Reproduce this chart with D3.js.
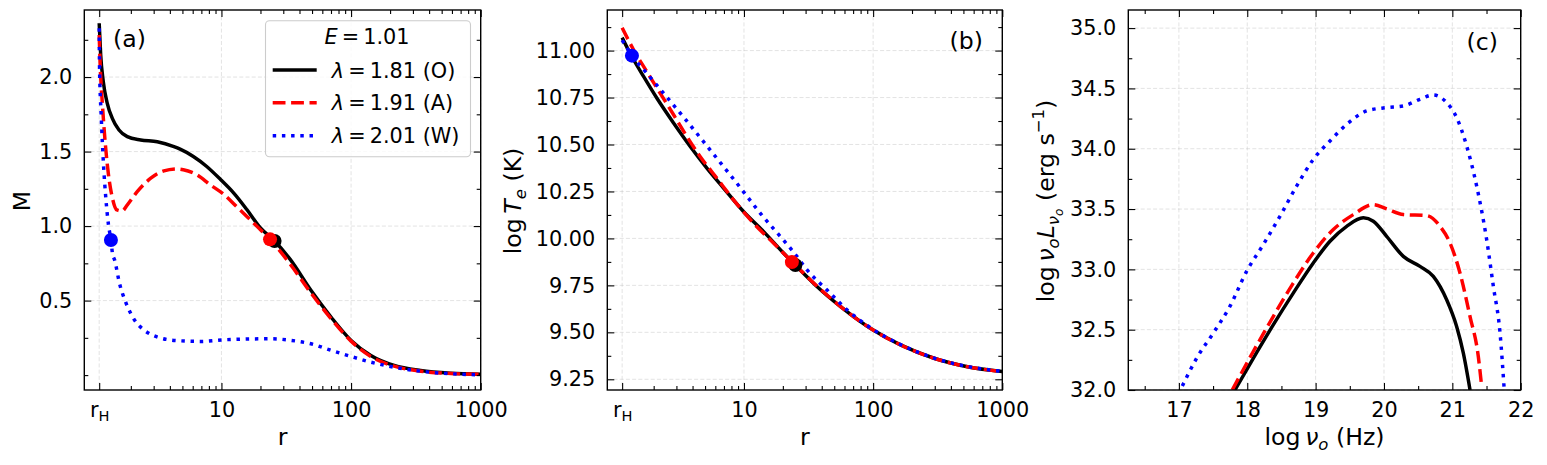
<!DOCTYPE html>
<html>
<head>
<meta charset="utf-8">
<script src="https://cdn.jsdelivr.net/npm/d3@7"></script>
<style>
  body { margin: 0; background: #fff; }
  svg { display: block; }
  text { font-family: "DejaVu Sans", sans-serif; fill: #000; }
</style>
</head>
<body>
<svg id="fig" width="1547" height="465"></svg>
<script>
// ---- data ----
var rH = 1.14;

// panel (a): Mach number M vs r
var rA_O = [rH, 1.171, 1.226, 1.316, 1.439, 1.621, 1.878, 2.38, 3.2, 4.3, 4.8, 6.07, 7.7, 9.88, 12.4, 15.7, 19.9, 25.7, 33.8, 49, 70, 100, 142, 215, 344, 588, 1000];
var mA_O = [2.361, 2.148, 1.969, 1.824, 1.723, 1.645, 1.600, 1.578, 1.566, 1.533, 1.516, 1.467, 1.40, 1.311, 1.223, 1.111, 0.989, 0.90, 0.778, 0.569, 0.39, 0.233, 0.132, 0.065, 0.031, 0.013, 0.006];
var rA_A = [rH, 1.16, 1.208, 1.267, 1.345, 1.443, 1.56, 1.71, 1.88, 2.24, 2.85, 3.6, 4.57, 5.08, 6.44, 8.17, 10.35, 13.1, 15.7, 20.0, 23.7, 34.4, 49, 70, 100, 142, 215, 344, 588, 1000];
var mA_A = [2.282, 2.081, 1.812, 1.566, 1.343, 1.186, 1.108, 1.101, 1.142, 1.231, 1.321, 1.37, 1.383, 1.378, 1.345, 1.278, 1.215, 1.13, 1.065, 0.975, 0.911, 0.737, 0.551, 0.379, 0.228, 0.125, 0.06, 0.026, 0.011, 0.005];
var rA_W = [rH, 1.146, 1.181, 1.231, 1.283, 1.345, 1.404, 1.443, 1.50, 1.635, 1.84, 2.135, 2.55, 3.24, 4.62, 6.99, 10, 16, 24.1, 34.4, 49, 70, 100, 142, 215, 344, 588, 1000];
var mA_W = [2.327, 2.081, 1.745, 1.41, 1.186, 1.007, 0.907, 0.817, 0.772, 0.616, 0.482, 0.37, 0.30, 0.254, 0.231, 0.226, 0.236, 0.242, 0.244, 0.233, 0.21, 0.166, 0.125, 0.087, 0.053, 0.026, 0.009, 0.002];

// panel (b): log Te vs r
var rB_O = [rH, 1.358, 1.674, 2.12, 2.86, 3.85, 5.18, 6.97, 9.95, 14.2, 20.3, 25, 36.9, 56, 100, 163, 296, 538, 1000];
var tB_O = [11.069, 10.967, 10.861, 10.746, 10.613, 10.488, 10.373, 10.267, 10.142, 10.036, 9.921, 9.858, 9.743, 9.637, 9.512, 9.433, 9.362, 9.317, 9.291];
var rB_A = [rH, 1.40, 1.77, 2.25, 2.86, 3.62, 4.59, 6.18, 8.33, 11.9, 17, 23.5, 36.9, 56, 100, 163, 296, 538, 1000];
var tB_A = [11.122, 11.003, 10.888, 10.772, 10.657, 10.542, 10.435, 10.32, 10.204, 10.08, 9.974, 9.876, 9.745, 9.637, 9.512, 9.433, 9.362, 9.317, 9.291];
var rB_W = [rH, 1.358, 1.77, 2.21, 3.52, 5.56, 8.73, 13.6, 21.8, 24.3, 30.8, 44, 63, 100, 163, 296, 538, 1000];
var tB_W = [11.056, 10.973, 10.879, 10.80, 10.634, 10.465, 10.297, 10.128, 9.965, 9.926, 9.832, 9.725, 9.619, 9.515, 9.435, 9.363, 9.318, 9.292];

// panel (c): spectrum log nu L_nu vs log nu
var nuC_O = [17.82, 18.088, 18.38, 18.673, 18.966, 19.21, 19.454, 19.698, 19.844, 20.039, 20.283, 20.527, 20.722, 20.917, 21.063, 21.161, 21.259];
var lC_O  = [32.0, 32.263, 32.54, 32.803, 33.053, 33.233, 33.357, 33.427, 33.399, 33.274, 33.108, 33.025, 32.942, 32.748, 32.526, 32.305, 32.0];
var nuC_A = [17.78, 18.088, 18.38, 18.673, 18.966, 19.259, 19.551, 19.844, 20.039, 20.283, 20.624, 20.82, 20.966, 21.112, 21.259, 21.38, 21.429];
var lC_A  = [32.0, 32.319, 32.609, 32.886, 33.136, 33.33, 33.454, 33.537, 33.501, 33.454, 33.446, 33.357, 33.219, 32.97, 32.609, 32.277, 32.028];
var nuC_W = [17.05, 17.259, 17.502, 17.746, 17.99, 18.234, 18.478, 18.722, 18.966, 19.21, 19.454, 19.746, 20.039, 20.283, 20.527, 20.722, 20.917, 21.063, 21.21, 21.356, 21.502, 21.6, 21.698, 21.756];
var lC_W  = [32.033, 32.263, 32.471, 32.693, 32.983, 33.205, 33.44, 33.69, 33.911, 34.064, 34.202, 34.313, 34.341, 34.355, 34.41, 34.446, 34.382, 34.258, 34.022, 33.69, 33.247, 32.859, 32.471, 32.028];

// sonic points
var sonicA = [{r: 1.404, v: 0.907, c: "#0000ff"}, {r: 25.7, v: 0.90, c: "#000000"}, {r: 23.7, v: 0.911, c: "#ff0000"}];
var sonicB = [{r: 1.358, v: 10.973, c: "#0000ff"}, {r: 25.0, v: 9.858, c: "#000000"}, {r: 23.5, v: 9.874, c: "#ff0000"}];

// ticks
var rMajor = [rH, 10, 100, 1000];
var rMinor = [2, 3, 4, 5, 6, 7, 8, 9, 20, 30, 40, 50, 60, 70, 80, 90, 200, 300, 400, 500, 600, 700, 800, 900];
var mMajor = [0.5, 1.0, 1.5, 2.0];
var mMinor = [0, 0.25, 0.75, 1.25, 1.75, 2.25];
var tMajor = [9.25, 9.5, 9.75, 10.0, 10.25, 10.5, 10.75, 11.0];
var tMinor = [9.375, 9.625, 9.875, 10.125, 10.375, 10.625, 10.875, 11.125];
var nuMajor = [17, 18, 19, 20, 21, 22];
var nuMinor = [16.5, 17.5, 18.5, 19.5, 20.5, 21.5];
var lMajor = [32.0, 32.5, 33.0, 33.5, 34.0, 34.5, 35.0];
var lMinor = [32.25, 32.75, 33.25, 33.75, 34.25, 34.75];

var legendTitle = "1.01";
var legendLabels = ["1.81 (O)", "1.91 (A)", "2.01 (W)"];

// ---- drawing ----
var svg = d3.select("#fig");
var PT = 10, PB = 390;
var LW = 3.47;
var FS = 20.8, LFS = 23.6;
var styles = [
  {color: "#000000", dash: null},
  {color: "#ff0000", dash: "12.8,5.6"},
  {color: "#0000ff", dash: "3.47,5.73"}
];

function rich(sel, parts) {
  var cur = 0;
  parts.forEach(function(p) {
    if (typeof p === "string") p = {t: p};
    var off = p.off || 0;
    sel.append("tspan")
      .attr("dy", off - cur)
      .attr("font-style", p.it ? "italic" : null)
      .attr("font-size", p.fs || null)
      .text(p.t);
    cur = off;
  });
}

function panel(p) {
  var x = p.x, y = p.y;
  var x0 = x.range()[0], x1 = x.range()[1];
  var g = svg.append("g");

  // grid
  var grid = g.append("g").attr("stroke", "#b0b0b0").attr("stroke-opacity", 0.4)
    .attr("stroke-width", 0.9).attr("stroke-dasharray", "4,2.2");
  grid.selectAll(".gx").data(p.xMajor).join("line")
    .attr("x1", function(d) { return x(d); }).attr("x2", function(d) { return x(d); })
    .attr("y1", PT).attr("y2", PB);
  grid.selectAll(".gy").data(p.yMajor).join("line")
    .attr("x1", x0).attr("x2", x1)
    .attr("y1", function(d) { return y(d); }).attr("y2", function(d) { return y(d); });

  // curves
  svg.append("clipPath").attr("id", "clip" + p.id)
    .append("rect").attr("x", x0).attr("y", PT).attr("width", x1 - x0).attr("height", PB - PT);
  var lines = g.append("g").attr("clip-path", "url(#clip" + p.id + ")");
  var line = d3.line().x(function(d) { return x(d[0]); }).y(function(d) { return y(d[1]); })
    .curve(d3.curveMonotoneX);
  p.series.forEach(function(s, i) {
    var pts = s[0].map(function(v, k) { return [v, s[1][k]]; });
    lines.append("path").attr("d", line(pts))
      .attr("fill", "none").attr("stroke", styles[i].color)
      .attr("stroke-width", LW).attr("stroke-dasharray", styles[i].dash);
  });
  if (p.dots) {
    lines.selectAll("circle").data(p.dots).join("circle")
      .attr("cx", function(d) { return x(d.r); }).attr("cy", function(d) { return y(d.v); })
      .attr("r", 7).attr("fill", function(d) { return d.c; });
  }

  // axes: ticks inward on all four sides
  function styleAxis(a) {
    a.select(".domain").remove();
    a.attr("font-family", null).attr("font-size", FS);
    a.selectAll("line").attr("stroke-width", 1.1);
    a.selectAll("text").attr("fill", "#000");
  }
  var gb = g.append("g").attr("transform", "translate(0," + PB + ")")
    .call(d3.axisBottom(x).tickValues(p.xMajor).tickFormat(p.xFmt).tickSize(-7).tickPadding(12));
  styleAxis(gb);
  g.append("g").attr("transform", "translate(0," + PB + ")")
    .call(d3.axisBottom(x).tickValues(p.xMinor).tickFormat("").tickSize(-4)).call(styleAxis);
  g.append("g").attr("transform", "translate(0," + PT + ")")
    .call(d3.axisTop(x).tickValues(p.xMajor).tickFormat("").tickSize(-7)).call(styleAxis);
  g.append("g").attr("transform", "translate(0," + PT + ")")
    .call(d3.axisTop(x).tickValues(p.xMinor).tickFormat("").tickSize(-4)).call(styleAxis);
  g.append("g").attr("transform", "translate(" + x0 + ",0)")
    .call(d3.axisLeft(y).tickValues(p.yMajor).tickFormat(p.yFmt).tickSize(-7).tickPadding(12)).call(styleAxis);
  g.append("g").attr("transform", "translate(" + x0 + ",0)")
    .call(d3.axisLeft(y).tickValues(p.yMinor).tickFormat("").tickSize(-4)).call(styleAxis);
  g.append("g").attr("transform", "translate(" + x1 + ",0)")
    .call(d3.axisRight(y).tickValues(p.yMajor).tickFormat("").tickSize(-7)).call(styleAxis);
  g.append("g").attr("transform", "translate(" + x1 + ",0)")
    .call(d3.axisRight(y).tickValues(p.yMinor).tickFormat("").tickSize(-4)).call(styleAxis);

  // r_H label with subscript
  gb.selectAll(".tick text").each(function(d) {
    if (d === rH) {
      var t = d3.select(this).text("");
      t.append("tspan").text("r");
      t.append("tspan").attr("font-size", 14.6).attr("dy", 4).text("H");
    }
  });

  // frame
  g.append("rect").attr("x", x0).attr("y", PT).attr("width", x1 - x0).attr("height", PB - PT)
    .attr("fill", "none").attr("stroke", "#000").attr("stroke-width", 1.4);

  // panel tag
  g.append("text").attr("x", p.tag.x).attr("y", p.tag.y).attr("font-size", LFS)
    .attr("text-anchor", p.tag.anchor).text(p.tag.t);

  // axis labels
  var xl = g.append("text").attr("x", (x0 + x1) / 2).attr("y", 445)
    .attr("text-anchor", "middle").attr("font-size", LFS);
  rich(xl, p.xLabel);
  var yl = g.append("text").attr("transform", "translate(" + p.yLabelX + ",201) rotate(-90)")
    .attr("text-anchor", "middle").attr("font-size", LFS);
  rich(yl, p.yLabel);
  return g;
}

var f1 = d3.format(".1f"), f2 = d3.format(".2f"), f0 = d3.format("d");
var rFmt = function(d) { return d === rH ? "r" : f0(d); };

var gA = panel({
  id: "a",
  x: d3.scaleLog().domain([0.875, 1000]).range([84.3, 480.7]),
  y: d3.scaleLinear().domain([-0.1, 2.45]).range([PB, PT]),
  xMajor: rMajor, xMinor: rMinor, yMajor: mMajor, yMinor: mMinor,
  xFmt: rFmt, yFmt: f1,
  series: [[rA_O, mA_O], [rA_A, mA_A], [rA_W, mA_W]],
  dots: sonicA,
  tag: {t: "(a)", x: 113, y: 46.5, anchor: "start"},
  xLabel: ["r"],
  yLabel: ["M"], yLabelX: 30
});

panel({
  id: "b",
  x: d3.scaleLog().domain([0.875, 1000]).range([607.3, 1002.3]),
  y: d3.scaleLinear().domain([9.193, 11.216]).range([PB, PT]),
  xMajor: rMajor, xMinor: rMinor, yMajor: tMajor, yMinor: tMinor,
  xFmt: rFmt, yFmt: f2,
  series: [[rB_O, tB_O], [rB_A, tB_A], [rB_W, tB_W]],
  dots: sonicB,
  tag: {t: "(b)", x: 983, y: 48.5, anchor: "end"},
  xLabel: ["r"],
  yLabel: ["log\u2009", {t: "T", it: true}, {t: "e", it: true, fs: 16.5, off: 5}, " (K)"], yLabelX: 521
});

panel({
  id: "c",
  x: d3.scaleLinear().domain([16.26, 22]).range([1128.3, 1520.7]),
  y: d3.scaleLinear().domain([32.0, 35.15]).range([PB, PT]),
  xMajor: nuMajor, xMinor: nuMinor, yMajor: lMajor, yMinor: lMinor,
  xFmt: f0, yFmt: f1,
  series: [[nuC_O, lC_O], [nuC_A, lC_A], [nuC_W, lC_W]],
  dots: null,
  tag: {t: "(c)", x: 1498, y: 50, anchor: "end"},
  xLabel: ["log\u2009", {t: "\u03bd", it: true}, {t: "o", it: true, fs: 16.5, off: 5}, " (Hz)"],
  yLabel: ["log\u2009", {t: "\u03bd", it: true}, {t: "o", it: true, fs: 16.5, off: 5},
           {t: "L", it: true}, {t: "\u03bd", it: true, fs: 16.5, off: 5}, {t: "o", it: true, fs: 12, off: 9},
           " (erg s", {t: "\u22121", fs: 16.5, off: -10}, ")"],
  yLabelX: 1054
});

// legend in panel (a)
var lg = gA.append("g");
lg.append("rect").attr("x", 265.5).attr("y", 20.7).attr("width", 205).attr("height", 136)
  .attr("rx", 4).attr("fill", "#fff").attr("fill-opacity", 0.8)
  .attr("stroke", "#cccccc").attr("stroke-width", 1.1);
var lt = lg.append("text").attr("x", 367).attr("y", 44.3).attr("text-anchor", "middle").attr("font-size", FS);
rich(lt, [{t: "E", it: true}, "\u2009=\u2009" + legendTitle]);
var rowY = d3.scalePoint().domain(legendLabels).range([70, 135.7]);
legendLabels.forEach(function(lab, i) {
  var yy = rowY(lab);
  lg.append("line").attr("x1", 272.7).attr("x2", 316.7).attr("y1", yy).attr("y2", yy)
    .attr("stroke", styles[i].color).attr("stroke-width", LW).attr("stroke-dasharray", styles[i].dash);
  var tx = lg.append("text").attr("x", 331.7).attr("y", yy + 7.5).attr("font-size", FS);
  rich(tx, [{t: "\u03bb", it: true}, "\u2009=\u2009" + lab]);
});
</script>
</body>
</html>
